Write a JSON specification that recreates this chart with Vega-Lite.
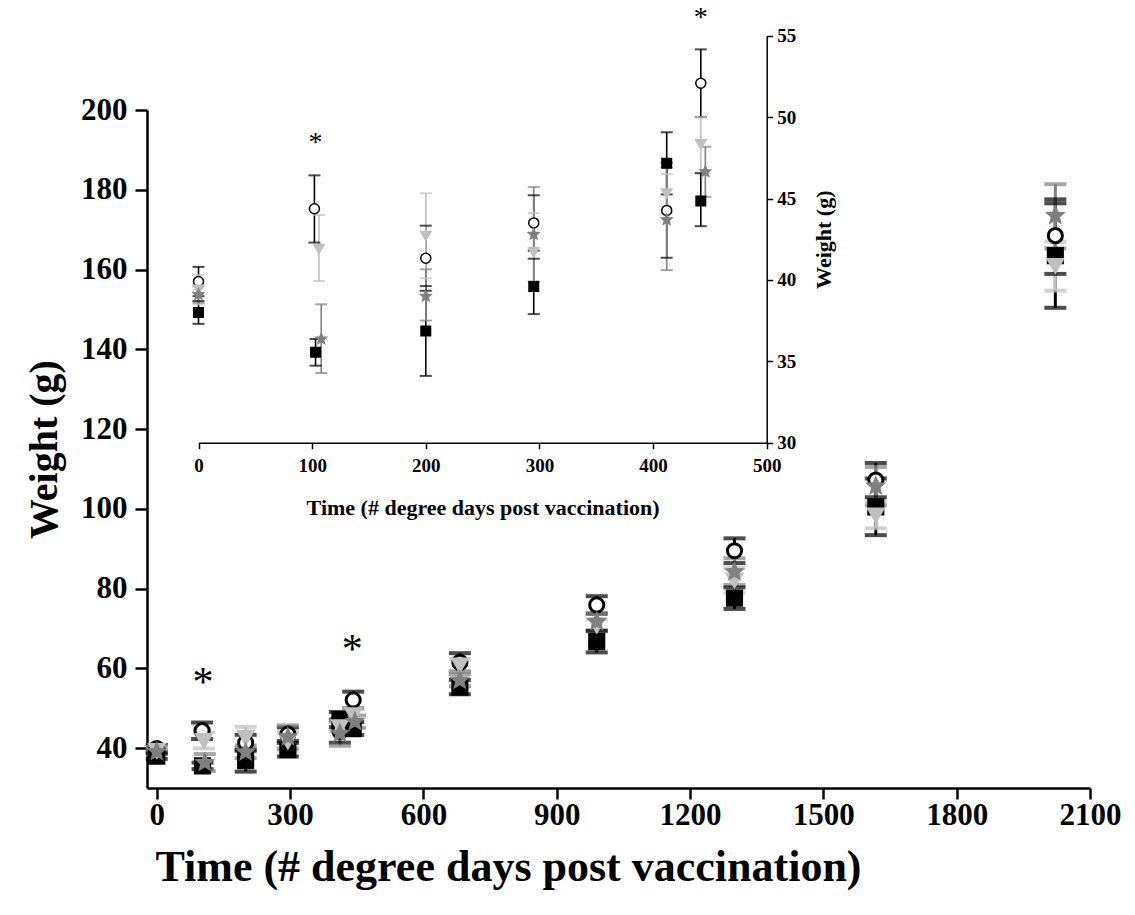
{
  "$schema": "https://vega.github.io/schema/vega-lite/v6.json",
  "width": 943,
  "height": 678,
  "autosize": {"type": "none"},
  "padding": {"left": 147, "top": 110, "right": 45, "bottom": 127},
  "background": "white",
  "config": {
    "view": {"stroke": null},
    "axis": {"grid": false, "domainColor": "#000", "tickColor": "#000", "labelColor": "#000", "titleColor": "#000", "labelFont": "Liberation Serif", "titleFont": "Liberation Serif", "labelFontWeight": "bold", "titleFontWeight": "bold", "format": "d", "labelFlush": false}
  },
  "datasets": {
    "w": [
      {"g": "A", "t": 0, "m": 38.0, "lo": 37.3, "hi": 38.7},
      {"g": "A", "t": 103, "m": 35.55, "lo": 34.73, "hi": 36.37},
      {"g": "A", "t": 200, "m": 36.86, "lo": 34.1, "hi": 39.62},
      {"g": "A", "t": 295, "m": 39.6, "lo": 37.9, "hi": 41.3},
      {"g": "A", "t": 412, "m": 47.16, "lo": 45.25, "hi": 49.07},
      {"g": "A", "t": 442, "m": 44.85, "lo": 43.3, "hi": 46.55},
      {"g": "A", "t": 682, "m": 55.3, "lo": 53.5, "hi": 57.1},
      {"g": "A", "t": 990, "m": 66.7, "lo": 64.0, "hi": 69.4},
      {"g": "A", "t": 1300, "m": 77.6, "lo": 74.9, "hi": 80.3},
      {"g": "A", "t": 1618, "m": 100.5, "lo": 93.4, "hi": 107.6},
      {"g": "A", "t": 2022, "m": 163.5, "lo": 150.4, "hi": 176.6},
      {"g": "B", "t": 0, "m": 39.9, "lo": 39.0, "hi": 40.8},
      {"g": "B", "t": 102, "m": 44.37, "lo": 42.29, "hi": 46.42},
      {"g": "B", "t": 200, "m": 41.33, "lo": 39.33, "hi": 43.33},
      {"g": "B", "t": 295, "m": 43.5, "lo": 41.8, "hi": 45.2},
      {"g": "B", "t": 412, "m": 44.27, "lo": 41.36, "hi": 47.2},
      {"g": "B", "t": 442, "m": 52.08, "lo": 50.0, "hi": 54.16},
      {"g": "B", "t": 682, "m": 61.5, "lo": 59.2, "hi": 63.8},
      {"g": "B", "t": 990, "m": 75.9, "lo": 73.7, "hi": 78.1},
      {"g": "B", "t": 1300, "m": 89.5, "lo": 86.4, "hi": 92.6},
      {"g": "B", "t": 1618, "m": 107.2, "lo": 102.9, "hi": 111.5},
      {"g": "B", "t": 2022, "m": 168.5, "lo": 158.9, "hi": 177.6},
      {"g": "C", "t": 0, "m": 39.4, "lo": 38.5, "hi": 40.3},
      {"g": "C", "t": 106, "m": 41.9, "lo": 39.93, "hi": 43.99},
      {"g": "C", "t": 200, "m": 42.7, "lo": 40.1, "hi": 45.32},
      {"g": "C", "t": 295, "m": 41.7, "lo": 39.3, "hi": 44.1},
      {"g": "C", "t": 412, "m": 45.3, "lo": 44.1, "hi": 46.5},
      {"g": "C", "t": 442, "m": 48.33, "lo": 46.6, "hi": 50.0},
      {"g": "C", "t": 682, "m": 60.8, "lo": 59.3, "hi": 62.3},
      {"g": "C", "t": 990, "m": 70.8, "lo": 69.3, "hi": 72.3},
      {"g": "C", "t": 1300, "m": 82.1, "lo": 79.0, "hi": 85.2},
      {"g": "C", "t": 1618, "m": 98.4, "lo": 95.1, "hi": 101.7},
      {"g": "C", "t": 2022, "m": 161.0, "lo": 154.7, "hi": 167.0},
      {"g": "D", "t": 0, "m": 39.1, "lo": 38.6, "hi": 39.6},
      {"g": "D", "t": 108, "m": 36.37, "lo": 34.28, "hi": 38.5},
      {"g": "D", "t": 200, "m": 39.0, "lo": 37.5, "hi": 40.65},
      {"g": "D", "t": 295, "m": 42.8, "lo": 39.9, "hi": 45.7},
      {"g": "D", "t": 412, "m": 43.7, "lo": 40.6, "hi": 46.9},
      {"g": "D", "t": 446, "m": 46.65, "lo": 45.1, "hi": 48.18},
      {"g": "D", "t": 682, "m": 57.0, "lo": 55.5, "hi": 58.5},
      {"g": "D", "t": 990, "m": 71.7, "lo": 69.5, "hi": 73.9},
      {"g": "D", "t": 1300, "m": 84.2, "lo": 80.9, "hi": 87.6},
      {"g": "D", "t": 1618, "m": 105.7, "lo": 100.9, "hi": 110.5},
      {"g": "D", "t": 2022, "m": 173.5, "lo": 165.3, "hi": 181.4}
    ],
    "mstar": [
      {"t": 104, "m": 56.3, "s": "*"},
      {"t": 440, "m": 64.6, "s": "*"}
    ],
    "istar": [
      {"t": 103, "m": 48.4, "s": "*"},
      {"t": 442, "m": 56.1, "s": "*"}
    ]
  },
  "data": {"name": "w"},
  "layer": [
    {
      "layer": [
        {
          "mark": {"type": "rule", "strokeWidth": 3},
          "encoding": {
            "x": {"field": "t", "type": "quantitative", "scale": {"domain": [-22, 2100], "nice": false, "zero": false}, "axis": {"orient": "bottom", "values": [0, 300, 600, 900, 1200, 1500, 1800, 2100], "title": "Time (# degree days post vaccination)", "domainWidth": 2.5, "tickWidth": 2.5, "tickSize": 11, "labelFontSize": 31, "labelPadding": 1, "titleFontSize": 44, "titleX": 361, "titleY": 92, "titleAlign": "center", "titleBaseline": "alphabetic"}},
            "y": {"field": "lo", "type": "quantitative", "scale": {"domain": [30, 200], "nice": false, "zero": false}, "axis": {"orient": "left", "values": [40, 60, 80, 100, 120, 140, 160, 180, 200], "title": "Weight (g)", "domainWidth": 2.5, "tickWidth": 2.5, "tickSize": 12, "labelFontSize": 31, "labelPadding": 8, "titleFontSize": 40, "titlePadding": 16}},
            "y2": {"field": "hi"},
            "color": {"field": "g", "type": "nominal", "scale": {"domain": ["A", "B", "C", "D"], "range": ["#000000", "#000000", "#c0c0c0", "#808080"]}, "legend": null}
          }
        },
        {
          "mark": {"type": "tick", "orient": "horizontal", "size": 22, "thickness": 4},
          "encoding": {
            "x": {"field": "t", "type": "quantitative", "scale": {"domain": [-22, 2100], "nice": false, "zero": false}, "axis": {"orient": "bottom", "values": [0, 300, 600, 900, 1200, 1500, 1800, 2100], "title": "Time (# degree days post vaccination)", "domainWidth": 2.5, "tickWidth": 2.5, "tickSize": 11, "labelFontSize": 31, "labelPadding": 1, "titleFontSize": 44, "titleX": 361, "titleY": 92, "titleAlign": "center", "titleBaseline": "alphabetic"}},
            "y": {"field": "lo", "type": "quantitative", "scale": {"domain": [30, 200], "nice": false, "zero": false}, "axis": {"orient": "left", "values": [40, 60, 80, 100, 120, 140, 160, 180, 200], "title": "Weight (g)", "domainWidth": 2.5, "tickWidth": 2.5, "tickSize": 12, "labelFontSize": 31, "labelPadding": 8, "titleFontSize": 40, "titlePadding": 16}},
            "color": {"field": "g", "type": "nominal", "scale": {"domain": ["A", "B", "C", "D"], "range": ["#000000", "#000000", "#c0c0c0", "#808080"]}, "legend": null}
          }
        },
        {
          "mark": {"type": "tick", "orient": "horizontal", "size": 22, "thickness": 4},
          "encoding": {
            "x": {"field": "t", "type": "quantitative", "scale": {"domain": [-22, 2100], "nice": false, "zero": false}, "axis": {"orient": "bottom", "values": [0, 300, 600, 900, 1200, 1500, 1800, 2100], "title": "Time (# degree days post vaccination)", "domainWidth": 2.5, "tickWidth": 2.5, "tickSize": 11, "labelFontSize": 31, "labelPadding": 1, "titleFontSize": 44, "titleX": 361, "titleY": 92, "titleAlign": "center", "titleBaseline": "alphabetic"}},
            "y": {"field": "hi", "type": "quantitative", "scale": {"domain": [30, 200], "nice": false, "zero": false}, "axis": {"orient": "left", "values": [40, 60, 80, 100, 120, 140, 160, 180, 200], "title": "Weight (g)", "domainWidth": 2.5, "tickWidth": 2.5, "tickSize": 12, "labelFontSize": 31, "labelPadding": 8, "titleFontSize": 40, "titlePadding": 16}},
            "color": {"field": "g", "type": "nominal", "scale": {"domain": ["A", "B", "C", "D"], "range": ["#000000", "#000000", "#c0c0c0", "#808080"]}, "legend": null}
          }
        },
        {
          "mark": {"type": "point", "filled": false, "strokeWidth": 3, "opacity": 1},
          "encoding": {
            "x": {"field": "t", "type": "quantitative", "scale": {"domain": [-22, 2100], "nice": false, "zero": false}, "axis": {"orient": "bottom", "values": [0, 300, 600, 900, 1200, 1500, 1800, 2100], "title": "Time (# degree days post vaccination)", "domainWidth": 2.5, "tickWidth": 2.5, "tickSize": 11, "labelFontSize": 31, "labelPadding": 1, "titleFontSize": 44, "titleX": 361, "titleY": 92, "titleAlign": "center", "titleBaseline": "alphabetic"}},
            "y": {"field": "m", "type": "quantitative", "scale": {"domain": [30, 200], "nice": false, "zero": false}, "axis": {"orient": "left", "values": [40, 60, 80, 100, 120, 140, 160, 180, 200], "title": "Weight (g)", "domainWidth": 2.5, "tickWidth": 2.5, "tickSize": 12, "labelFontSize": 31, "labelPadding": 8, "titleFontSize": 40, "titlePadding": 16}},
            "shape": {"field": "g", "type": "nominal", "scale": {"domain": ["A", "B", "C", "D"], "range": ["square", "circle", "triangle-down", "M0,-1L0.265,-0.364L0.951,-0.309L0.428,0.139L0.588,0.809L0,0.45L-0.588,0.809L-0.428,0.139L-0.951,-0.309L-0.265,-0.364Z"]}, "legend": null},
            "fill": {"field": "g", "type": "nominal", "scale": {"domain": ["A", "B", "C", "D"], "range": ["#000000", "#ffffff", "#c0c0c0", "#808080"]}, "legend": null},
            "stroke": {"field": "g", "type": "nominal", "scale": {"domain": ["A", "B", "C", "D"], "range": ["#000000", "#000000", "#c0c0c0", "#808080"]}, "legend": null},
            "size": {"field": "g", "type": "nominal", "scale": {"domain": ["A", "B", "C", "D"], "range": [200, 200, 300, 360]}, "legend": null}
          }
        },
        {
          "data": {"name": "mstar"},
          "mark": {"type": "text", "font": "Liberation Serif", "fontSize": 42, "baseline": "middle", "align": "center", "color": "#000"},
          "encoding": {
            "x": {"field": "t", "type": "quantitative", "scale": {"domain": [-22, 2100], "nice": false, "zero": false}, "axis": {"orient": "bottom", "values": [0, 300, 600, 900, 1200, 1500, 1800, 2100], "title": "Time (# degree days post vaccination)", "domainWidth": 2.5, "tickWidth": 2.5, "tickSize": 11, "labelFontSize": 31, "labelPadding": 1, "titleFontSize": 44, "titleX": 361, "titleY": 92, "titleAlign": "center", "titleBaseline": "alphabetic"}},
            "y": {"field": "m", "type": "quantitative", "scale": {"domain": [30, 200], "nice": false, "zero": false}, "axis": {"orient": "left", "values": [40, 60, 80, 100, 120, 140, 160, 180, 200], "title": "Weight (g)", "domainWidth": 2.5, "tickWidth": 2.5, "tickSize": 12, "labelFontSize": 31, "labelPadding": 8, "titleFontSize": 40, "titlePadding": 16}},
            "text": {"field": "s"}
          }
        }
      ]
    },
    {
      "layer": [
        {
          "transform": [{"filter": "datum.t < 500"}],
          "mark": {"type": "rule", "strokeWidth": 1.6},
          "encoding": {
            "x": {"field": "t", "type": "quantitative", "scale": {"domain": [0, 500], "range": [51.5, 619.7], "nice": false, "zero": false}, "axis": {"orient": "bottom", "offset": -345.3, "values": [0, 100, 200, 300, 400, 500], "title": "Time (# degree days post vaccination)", "domainWidth": 1.5, "tickWidth": 1.5, "tickSize": 6, "labelFontSize": 19, "labelPadding": 8, "titleFontSize": 22, "titlePadding": 22}},
            "y": {"field": "lo", "type": "quantitative", "scale": {"domain": [30, 55], "range": [332.7, -74.3], "nice": false, "zero": false}, "axis": {"orient": "right", "offset": -323.3, "values": [30, 35, 40, 45, 50, 55], "title": "Weight (g)", "domainWidth": 1.5, "tickWidth": 1.5, "tickSize": 6, "labelFontSize": 19, "labelPadding": 4, "titleFontSize": 22, "titlePadding": 18, "titleAngle": 270, "titleBaseline": "top"}},
            "y2": {"field": "hi"},
            "color": {"field": "g", "type": "nominal", "scale": {"domain": ["A", "B", "C", "D"], "range": ["#000000", "#000000", "#c0c0c0", "#808080"]}, "legend": null}
          }
        },
        {
          "transform": [{"filter": "datum.t < 500"}],
          "mark": {"type": "tick", "orient": "horizontal", "size": 12, "thickness": 2},
          "encoding": {
            "x": {"field": "t", "type": "quantitative", "scale": {"domain": [0, 500], "range": [51.5, 619.7], "nice": false, "zero": false}, "axis": {"orient": "bottom", "offset": -345.3, "values": [0, 100, 200, 300, 400, 500], "title": "Time (# degree days post vaccination)", "domainWidth": 1.5, "tickWidth": 1.5, "tickSize": 6, "labelFontSize": 19, "labelPadding": 8, "titleFontSize": 22, "titlePadding": 22}},
            "y": {"field": "lo", "type": "quantitative", "scale": {"domain": [30, 55], "range": [332.7, -74.3], "nice": false, "zero": false}, "axis": {"orient": "right", "offset": -323.3, "values": [30, 35, 40, 45, 50, 55], "title": "Weight (g)", "domainWidth": 1.5, "tickWidth": 1.5, "tickSize": 6, "labelFontSize": 19, "labelPadding": 4, "titleFontSize": 22, "titlePadding": 18, "titleAngle": 270, "titleBaseline": "top"}},
            "color": {"field": "g", "type": "nominal", "scale": {"domain": ["A", "B", "C", "D"], "range": ["#000000", "#000000", "#c0c0c0", "#808080"]}, "legend": null}
          }
        },
        {
          "transform": [{"filter": "datum.t < 500"}],
          "mark": {"type": "tick", "orient": "horizontal", "size": 12, "thickness": 2},
          "encoding": {
            "x": {"field": "t", "type": "quantitative", "scale": {"domain": [0, 500], "range": [51.5, 619.7], "nice": false, "zero": false}, "axis": {"orient": "bottom", "offset": -345.3, "values": [0, 100, 200, 300, 400, 500], "title": "Time (# degree days post vaccination)", "domainWidth": 1.5, "tickWidth": 1.5, "tickSize": 6, "labelFontSize": 19, "labelPadding": 8, "titleFontSize": 22, "titlePadding": 22}},
            "y": {"field": "hi", "type": "quantitative", "scale": {"domain": [30, 55], "range": [332.7, -74.3], "nice": false, "zero": false}, "axis": {"orient": "right", "offset": -323.3, "values": [30, 35, 40, 45, 50, 55], "title": "Weight (g)", "domainWidth": 1.5, "tickWidth": 1.5, "tickSize": 6, "labelFontSize": 19, "labelPadding": 4, "titleFontSize": 22, "titlePadding": 18, "titleAngle": 270, "titleBaseline": "top"}},
            "color": {"field": "g", "type": "nominal", "scale": {"domain": ["A", "B", "C", "D"], "range": ["#000000", "#000000", "#c0c0c0", "#808080"]}, "legend": null}
          }
        },
        {
          "transform": [{"filter": "datum.t < 500"}],
          "mark": {"type": "point", "filled": false, "strokeWidth": 1.5, "opacity": 1},
          "encoding": {
            "x": {"field": "t", "type": "quantitative", "scale": {"domain": [0, 500], "range": [51.5, 619.7], "nice": false, "zero": false}, "axis": {"orient": "bottom", "offset": -345.3, "values": [0, 100, 200, 300, 400, 500], "title": "Time (# degree days post vaccination)", "domainWidth": 1.5, "tickWidth": 1.5, "tickSize": 6, "labelFontSize": 19, "labelPadding": 8, "titleFontSize": 22, "titlePadding": 22}},
            "y": {"field": "m", "type": "quantitative", "scale": {"domain": [30, 55], "range": [332.7, -74.3], "nice": false, "zero": false}, "axis": {"orient": "right", "offset": -323.3, "values": [30, 35, 40, 45, 50, 55], "title": "Weight (g)", "domainWidth": 1.5, "tickWidth": 1.5, "tickSize": 6, "labelFontSize": 19, "labelPadding": 4, "titleFontSize": 22, "titlePadding": 18, "titleAngle": 270, "titleBaseline": "top"}},
            "shape": {"field": "g", "type": "nominal", "scale": {"domain": ["A", "B", "C", "D"], "range": ["square", "circle", "triangle-down", "M0,-1L0.265,-0.364L0.951,-0.309L0.428,0.139L0.588,0.809L0,0.45L-0.588,0.809L-0.428,0.139L-0.951,-0.309L-0.265,-0.364Z"]}, "legend": null},
            "fill": {"field": "g", "type": "nominal", "scale": {"domain": ["A", "B", "C", "D"], "range": ["#000000", "#ffffff", "#c0c0c0", "#808080"]}, "legend": null},
            "stroke": {"field": "g", "type": "nominal", "scale": {"domain": ["A", "B", "C", "D"], "range": ["#000000", "#000000", "#c0c0c0", "#808080"]}, "legend": null},
            "size": {"field": "g", "type": "nominal", "scale": {"domain": ["A", "B", "C", "D"], "range": [90, 120, 160, 170]}, "legend": null}
          }
        },
        {
          "data": {"name": "istar"},
          "mark": {"type": "text", "font": "Liberation Serif", "fontSize": 28, "baseline": "middle", "align": "center", "color": "#000"},
          "encoding": {
            "x": {"field": "t", "type": "quantitative", "scale": {"domain": [0, 500], "range": [51.5, 619.7], "nice": false, "zero": false}, "axis": {"orient": "bottom", "offset": -345.3, "values": [0, 100, 200, 300, 400, 500], "title": "Time (# degree days post vaccination)", "domainWidth": 1.5, "tickWidth": 1.5, "tickSize": 6, "labelFontSize": 19, "labelPadding": 8, "titleFontSize": 22, "titlePadding": 22}},
            "y": {"field": "m", "type": "quantitative", "scale": {"domain": [30, 55], "range": [332.7, -74.3], "nice": false, "zero": false}, "axis": {"orient": "right", "offset": -323.3, "values": [30, 35, 40, 45, 50, 55], "title": "Weight (g)", "domainWidth": 1.5, "tickWidth": 1.5, "tickSize": 6, "labelFontSize": 19, "labelPadding": 4, "titleFontSize": 22, "titlePadding": 18, "titleAngle": 270, "titleBaseline": "top"}},
            "text": {"field": "s"}
          }
        }
      ]
    }
  ],
  "resolve": {"scale": {"x": "independent", "y": "independent", "size": "independent"}, "axis": {"x": "independent", "y": "independent"}}
}
